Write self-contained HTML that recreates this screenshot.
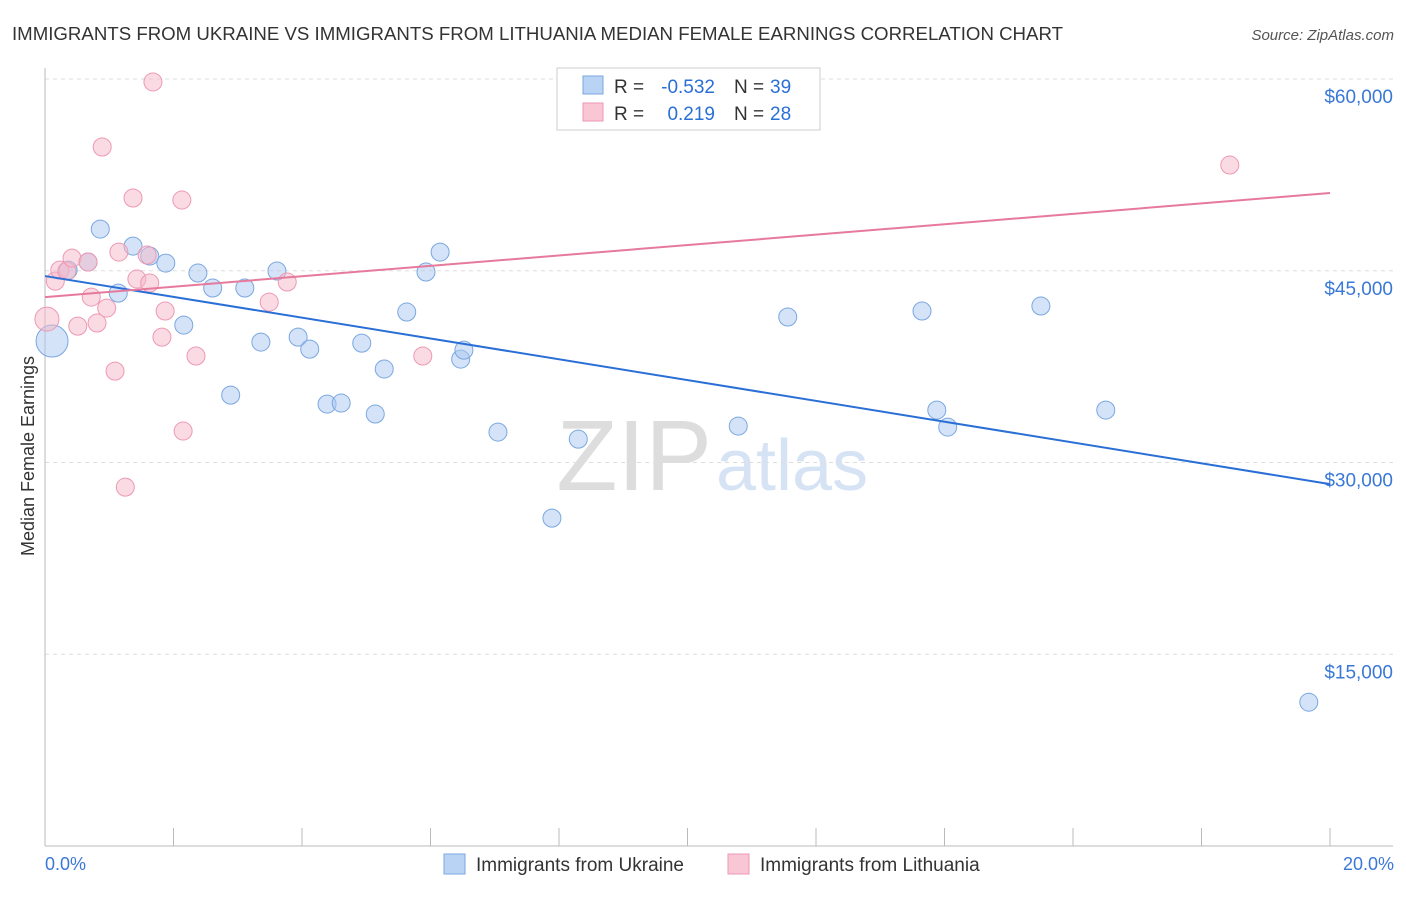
<!DOCTYPE html>
<html><head><meta charset="utf-8"><style>
body{margin:0;background:#fff;font-family:"Liberation Sans",sans-serif}
svg text{font-family:"Liberation Sans",sans-serif}
</style></head><body>
<svg id="c" width="1406" height="892" xmlns="http://www.w3.org/2000/svg">
<text x="12" y="40" font-size="18" fill="#333" textLength="1051" lengthAdjust="spacingAndGlyphs">IMMIGRANTS FROM UKRAINE VS IMMIGRANTS FROM LITHUANIA MEDIAN FEMALE EARNINGS CORRELATION CHART</text>
<text x="1394" y="40" font-size="15" fill="#555" font-style="italic" text-anchor="end">Source: ZipAtlas.com</text>
<text x="712" y="490" font-size="100" fill="#ddd" text-anchor="end" font-family="Liberation Serif">ZIP</text>
<text x="716" y="490" font-size="72" fill="#d6e3f5">atlas</text>
<g id="grid"></g><g id="axes"></g><g id="pts"></g><g id="lines"></g>
<text transform="translate(34,456) rotate(-90)" font-size="18" fill="#333" text-anchor="middle">Median Female Earnings</text>
<text x="45" y="870" font-size="18" fill="#3a78d8">0.0%</text>
<text x="1394" y="870" font-size="18" fill="#3a78d8" text-anchor="end">20.0%</text>
<g>
<rect x="557" y="68" width="263" height="62" fill="#fff" stroke="#ccc"/>
<rect x="583" y="76" width="20" height="18" fill="#b9d3f4" stroke="#7aa7e0"/>
<rect x="583" y="103" width="20" height="18" fill="#f9c6d5" stroke="#ee98b4"/>
<text x="614" y="93" font-size="19" fill="#333">R =</text>
<text x="715" y="93" font-size="19" fill="#2a6fd6" text-anchor="end">-0.532</text>
<text x="734" y="93" font-size="19" fill="#333">N =</text>
<text x="770" y="93" font-size="19" fill="#2a6fd6">39</text>
<text x="614" y="120" font-size="19" fill="#333">R =</text>
<text x="715" y="120" font-size="19" fill="#2a6fd6" text-anchor="end">0.219</text>
<text x="734" y="120" font-size="19" fill="#333">N =</text>
<text x="770" y="120" font-size="19" fill="#2a6fd6">28</text>
</g>
<g>
<rect x="444" y="854" width="21" height="20" fill="#b9d3f4" stroke="#7aa7e0"/>
<text x="476" y="871" font-size="19" fill="#333">Immigrants from Ukraine</text>
<rect x="728" y="854" width="21" height="20" fill="#f9c6d5" stroke="#ee98b4"/>
<text x="760" y="871" font-size="19" fill="#333">Immigrants from Lithuania</text>
</g>
</svg>
<script>
const yTicks=[15000,30000,45000,60000];
const yTickLabels=["$15,000","$30,000","$45,000","$60,000"];
const xTicks=[0,2,4,6,8,10,12,14,16,18,20];
const ukX=[0.11,0.36,0.67,0.86,1.14,1.37,1.63,1.88,2.16,2.38,2.61,2.89,3.11,3.36,3.61,3.94,4.12,4.39,4.61,4.93,5.14,5.28,5.63,5.93,6.15,6.47,6.52,7.05,7.89,8.30,8.92,10.79,11.56,13.65,13.88,14.05,15.50,16.51,19.67];
const ukY=[39500,45050,45680,48260,43250,46930,46150,45600,40750,44820,43650,35270,43650,39420,44980,39810,38870,34570,34650,39340,33790,37310,41770,44900,46460,38090,38790,32380,25650,31830,57570,32850,41380,41850,34100,32770,42240,34100,11250];
const ltX=[0.03,0.16,0.23,0.34,0.42,0.67,0.72,0.81,0.89,0.96,1.09,1.25,1.37,1.43,1.59,1.63,1.68,1.82,1.87,2.13,2.15,2.35,3.49,3.77,5.88,18.44,0.51,1.15];
const ltY=[41220,44190,45050,44970,45990,45680,42940,40910,54680,42080,37150,28070,50690,44350,46230,44040,59770,39810,41850,50530,32460,38330,42550,44120,38330,53270,40670,46460];
const ukTrend=[44585,28310];
const ltTrend=[42940,51080];
const NS="http://www.w3.org/2000/svg";
const xs=v=>45+v/20*1285, ys=v=>846-v/60000*767;
function mk(t,a,p){const e=document.createElementNS(NS,t);for(const k in a)e.setAttribute(k,a[k]);p.appendChild(e);return e;}
const grid=document.getElementById('grid'),axes=document.getElementById('axes'),pts=document.getElementById('pts'),lines=document.getElementById('lines');
yTicks.forEach((v,i)=>{
 const l=mk('line',{x1:45,x2:1393,y1:ys(v),y2:ys(v),stroke:'#ddd','stroke-dasharray':'4,4'},grid);
 
 
 const t=mk('text',{x:1393,y:ys(v)+24,'font-size':19,fill:'#3a78d8','text-anchor':'end'},axes);
 t.textContent=yTickLabels[i];
 
 
});
const ax=mk('line',{x1:45,x2:45,y1:68,y2:846,stroke:'#bbb'},axes);


const bx=mk('line',{x1:45,x2:1393,y1:846,y2:846,stroke:'#bbb'},axes);


xTicks.forEach(v=>{
 const t=mk('line',{x1:xs(v),x2:xs(v),y1:828,y2:846,stroke:'#bbb'},axes);
 
 
});
function draw(X,Y,fill,stroke,name,bigR){
 X.forEach((x,i)=>{
  const c=mk('circle',{cx:xs(x),cy:ys(Y[i]),r:i===0?bigR:9,fill:fill,'fill-opacity':0.5,stroke:stroke,'stroke-width':1},pts);
  
  
 });
}
draw(ukX,ukY,'#a9c8f0','#7aa7e0','point-ukraine',16);
draw(ltX,ltY,'#f6b7ca','#ee98b4','point-lithuania',12);
const l1=mk('line',{x1:xs(0),x2:xs(20),y1:ys(ukTrend[0]),y2:ys(ukTrend[1]),stroke:'#2a6fd6','stroke-width':2},lines);


const l2=mk('line',{x1:xs(0),x2:xs(20),y1:ys(ltTrend[0]),y2:ys(ltTrend[1]),stroke:'#e6799c','stroke-width':2},lines);


</script>
</body></html>
